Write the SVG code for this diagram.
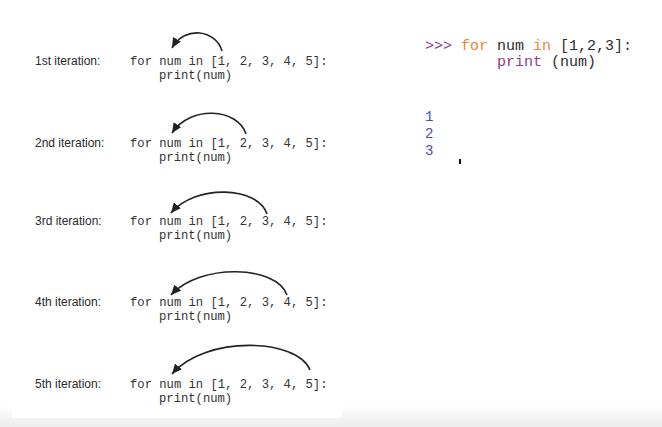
<svg xmlns="http://www.w3.org/2000/svg" width="662" height="427" viewBox="0 0 662 427">
<defs>
<style>
.lbl{font-family:"Liberation Sans",Arial,sans-serif;font-size:12px;fill:#2a2a2a;}
.code{font-family:"Liberation Mono","Courier New",monospace;font-size:12.2px;fill:#333;white-space:pre;}
.py{font-family:"Liberation Mono","Courier New",monospace;font-size:15px;fill:#2e2e2e;white-space:pre;}
.kw{fill:#e8893a;}
.pr{fill:#8e3a8e;}
.out{font-family:"Liberation Mono","Courier New",monospace;font-size:14px;fill:#4a4ac8;}
.arc{fill:none;stroke:#222;stroke-width:1.6;}
</style>
<marker id="ah" markerUnits="userSpaceOnUse" markerWidth="11" markerHeight="9" refX="10" refY="4.5" orient="auto">
<path d="M0,0 L10,4.5 L0,9 z" fill="#222"/>
</marker>
<linearGradient id="bot" x1="0" y1="0" x2="0" y2="1">
<stop offset="0" stop-color="#ffffff"/>
<stop offset="1" stop-color="#ececec"/>
</linearGradient>
</defs>
<rect width="662" height="427" fill="#ffffff"/>
<rect x="0" y="405" width="662" height="22" fill="url(#bot)"/>
<rect x="12" y="20" width="330" height="398" fill="#ffffff"/>

<g id="iter1">
<text class="lbl" x="35" y="65">1st iteration:</text>
<text class="code" x="130" y="65">for num in [1, 2, 3, 4, 5]:</text>
<text class="code" x="159" y="79">print(num)</text>
</g>
<g id="iter2">
<text class="lbl" x="35" y="147">2nd iteration:</text>
<text class="code" x="130" y="147">for num in [1, 2, 3, 4, 5]:</text>
<text class="code" x="159" y="161">print(num)</text>
</g>
<g id="iter3">
<text class="lbl" x="35" y="225">3rd iteration:</text>
<text class="code" x="130" y="225">for num in [1, 2, 3, 4, 5]:</text>
<text class="code" x="159" y="239">print(num)</text>
</g>
<g id="iter4">
<text class="lbl" x="35" y="306">4th iteration:</text>
<text class="code" x="130" y="306">for num in [1, 2, 3, 4, 5]:</text>
<text class="code" x="159" y="320">print(num)</text>
</g>
<g id="iter5">
<text class="lbl" x="35" y="388">5th iteration:</text>
<text class="code" x="130" y="388">for num in [1, 2, 3, 4, 5]:</text>
<text class="code" x="159" y="402">print(num)</text>
</g>

<g id="connectors">
<path class="arc" marker-end="url(#ah)" d="M222,51 C216,30 185,25 172,48"/>
<path class="arc" marker-end="url(#ah)" d="M246,134 C238,108 190,105 172,133"/>
<path class="arc" marker-end="url(#ah)" d="M267,214 C258,186 195,184 171,213"/>
<path class="arc" marker-end="url(#ah)" d="M287,295 C276,265 200,263 171,295"/>
<path class="arc" marker-end="url(#ah)" d="M310,370 C298,338 205,335 172,374"/>
</g>

<g id="python">
<text class="py" x="425" y="50"><tspan class="pr">&gt;&gt;&gt;</tspan> <tspan class="kw">for</tspan> num <tspan class="kw">in</tspan> [1,2,3]:</text>
<text class="py" x="497" y="66"><tspan class="pr">print</tspan> (num)</text>
<text class="out" x="425" y="121">1</text>
<text class="out" x="425" y="138">2</text>
<text class="out" x="425" y="155">3</text>
<rect x="459" y="159" width="2" height="5" fill="#111"/>
</g>
</svg>
